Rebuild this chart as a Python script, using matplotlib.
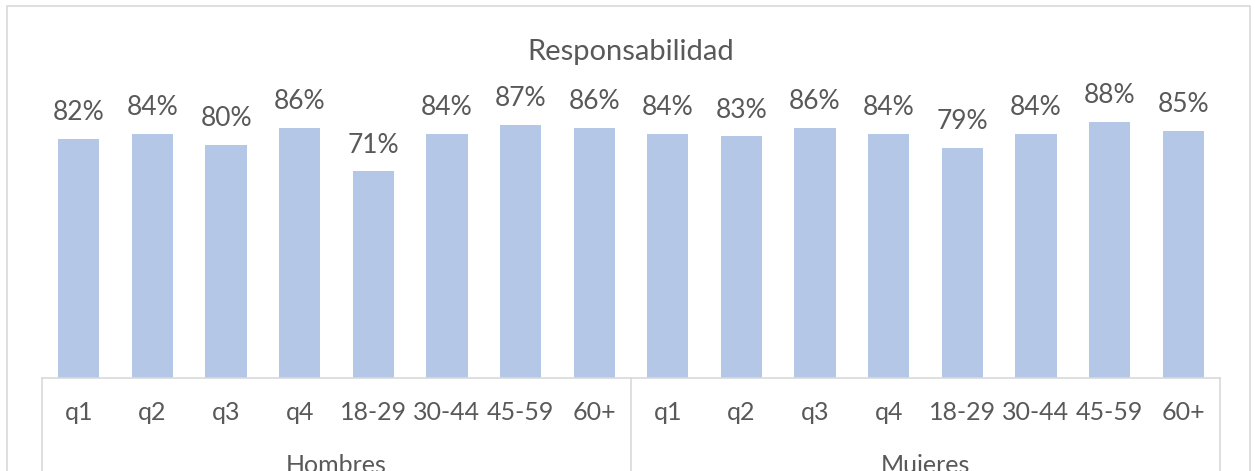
import matplotlib.pyplot as plt
from matplotlib.patches import Rectangle
from matplotlib.lines import Line2D

plt.rcParams['font.family'] = ['Lato', 'DejaVu Sans']

categories = ['q1', 'q2', 'q3', 'q4', '18-29', '30-44', '45-59', '60+',
              'q1', 'q2', 'q3', 'q4', '18-29', '30-44', '45-59', '60+']
groups = ['Hombres', 'Mujeres']
values = [0.82, 0.84, 0.80, 0.86, 0.71, 0.84, 0.87, 0.86,
          0.84, 0.83, 0.86, 0.84, 0.79, 0.84, 0.88, 0.85]

text_color = '#595959'
bar_color = '#B4C7E7'
line_color = '#D9D9D9'

W, H = 1255, 471
fig = plt.figure(figsize=(W / 100, H / 100), dpi=100)
ax = fig.add_axes([42 / W, 1 - 378 / H, (1220 - 42) / W, (378 - 87) / H])

x = range(len(categories))
bars = ax.bar(x, values, width=0.56, color=bar_color)
for b, v in zip(bars, values):
    ax.annotate('{:.0%}'.format(v), (b.get_x() + b.get_width() / 2, v),
                xytext=(0, 10), textcoords='offset points',
                ha='center', va='bottom', fontsize=19, color=text_color)

ax.set_xlim(-0.5, len(categories) - 0.5)
ax.set_ylim(0, 1.0)
ax.set_yticks([])
ax.set_xticks([])
for s in ['top', 'right', 'left']:
    ax.spines[s].set_visible(False)
ax.spines['bottom'].set_color(line_color)
ax.spines['bottom'].set_linewidth(1.2)

# category labels and group labels below the axis
trans = ax.get_xaxis_transform()
for i, c in enumerate(categories):
    ax.text(i, -0.12, c, transform=trans, ha='center', va='center',
            fontsize=18, color=text_color)
n = len(categories) // len(groups)
for g, name in enumerate(groups):
    ax.text(g * n + (n - 1) / 2, -0.3, name, transform=trans, ha='center',
            va='center', fontsize=18, color=text_color, clip_on=False)
for k in range(len(groups) + 1):
    ax.add_line(Line2D([k * n - 0.5] * 2, [0, -0.5], transform=trans,
                       color=line_color, lw=1.2, clip_on=False))

fig.text(631 / W, 1 - 52 / H, 'Responsabilidad', ha='center', va='center',
         fontsize=21, color=text_color)

# outer chart border
fig.patches.append(Rectangle((7 / W, -0.1), (1250 - 7) / W, 1.1 - 6 / H,
                             transform=fig.transFigure, fill=False,
                             edgecolor=line_color, lw=1.2))

plt.savefig('out.png', dpi=100)
